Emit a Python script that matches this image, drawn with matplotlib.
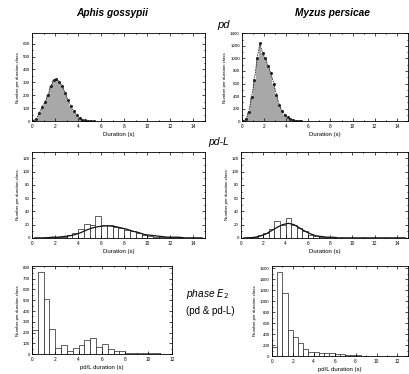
import matplotlib.pyplot as plt
import numpy as np
from matplotlib.ticker import MultipleLocator

plt.rcParams.update({
    "font.family": ["Liberation Sans", "DejaVu Sans"],
    "font.size": 3,
    "axes.linewidth": 0.6,
    "xtick.direction": "in",
    "ytick.direction": "in",
    "xtick.top": True,
    "ytick.right": True,
    "xtick.major.size": 2,
    "ytick.major.size": 2,
    "xtick.minor.size": 1,
    "ytick.minor.size": 1,
    "xtick.major.width": 0.5,
    "ytick.major.width": 0.5,
    "xtick.labelsize": 3.4,
    "ytick.labelsize": 3.2,
    "xtick.major.pad": 2,
    "ytick.major.pad": 1.5,
})

# --- data: counts per duration class -------------------------------------
# pd, 0.25 s classes starting at 0
PD_WIDTH = 0.25
pd_aphis = [5, 20, 60, 110, 150, 200, 270, 315, 325, 305, 270, 220, 160,
            115, 75, 45, 25, 12, 6, 3, 1, 0]
pd_myzus = [5, 40, 150, 380, 650, 1000, 1240, 1080, 1000, 880, 760, 600,
            420, 260, 160, 100, 60, 35, 20, 10, 5, 2]

# pd-L, 0.5 s classes starting at 0
PDL_WIDTH = 0.5
pdl_aphis = [0, 0, 1, 1, 2, 2, 4, 7, 14, 21, 20, 33, 19, 20, 16, 15, 12, 10,
             7, 4, 3, 2, 2, 1, 1, 1, 0, 0, 0, 0]
pdl_aphis_fit = [0, 0, 0, 1, 1, 2, 3, 5, 8, 12, 15, 17, 18, 18, 17, 15, 13,
                 10, 8, 5, 4, 3, 2, 1, 1, 1, 0, 0, 0, 0]
pdl_myzus = [0, 1, 2, 4, 8, 14, 25, 20, 30, 20, 15, 10, 4, 3, 2, 1, 0, 0,
             0, 0, 0, 0, 0, 0, 0, 0, 0, 0, 0, 0]
pdl_myzus_fit = [0, 0, 1, 3, 6, 11, 16, 20, 22, 20, 15, 10, 6, 3, 2, 1, 1,
                 0, 0, 0, 0, 0, 0, 0, 0, 0, 0, 0, 0, 0]

# phase E2 (pd & pd-L), 0.5 s classes starting at 0
E2_WIDTH = 0.5
e2_aphis = [225, 760, 510, 230, 55, 85, 25, 55, 85, 130, 150, 70, 90, 45, 30,
            25, 15, 15, 12, 12, 10, 8, 5, 6]
e2_myzus = [160, 1530, 1140, 470, 340, 230, 120, 80, 70, 60, 60, 50, 40, 30,
            20, 15, 10, 8, 5, 4, 3, 2, 2, 1, 1]

YLABEL = "Number per duration class"

fig = plt.figure(figsize=(4.10, 3.74), dpi=100)


def setup(ax, xmax, xstep, ymax, ystep, xlabel):
    ax.set_xlim(0, xmax)
    ax.set_ylim(0, ymax)
    ax.xaxis.set_major_locator(MultipleLocator(xstep))
    ax.xaxis.set_minor_locator(MultipleLocator(xstep / 2))
    ax.yaxis.set_major_locator(MultipleLocator(ystep))
    ax.yaxis.set_minor_locator(MultipleLocator(ystep / 2))
    ax.tick_params(which="both", top=True, right=True)
    ax.set_xlabel(xlabel, fontsize=4.3, labelpad=2.5)
    ax.set_ylabel(YLABEL, fontsize=3.2, labelpad=2)


def pd_panel(ax, counts):
    x = np.arange(len(counts)) * PD_WIDTH
    ax.bar(x, counts, width=PD_WIDTH, align="edge", color="#a8a8a8",
           edgecolor="none")
    ax.plot(x + PD_WIDTH / 2, counts, color="#222222", linewidth=0.6,
            linestyle=(0, (2, 1)), marker="o", markersize=1.2)


def pdl_panel(ax, counts, fit):
    x = np.arange(len(counts)) * PDL_WIDTH
    ax.bar(x, counts, width=PDL_WIDTH, align="edge", color="white",
           edgecolor="#222222", linewidth=0.5)
    ax.plot(x + PDL_WIDTH / 2, fit, color="#111111", linewidth=0.9)


def e2_panel(ax, counts):
    x = np.arange(len(counts)) * E2_WIDTH
    ax.bar(x, counts, width=E2_WIDTH, align="edge", color="white",
           edgecolor="#222222", linewidth=0.5)


# top row: pd
ax1 = fig.add_axes([0.078, 0.676, 0.422, 0.235])
pd_panel(ax1, pd_aphis)
setup(ax1, 15, 2, 680, 100, "Duration (s)")

ax2 = fig.add_axes([0.590, 0.676, 0.405, 0.235])
pd_panel(ax2, pd_myzus)
setup(ax2, 15, 2, 1400, 200, "Duration (s)")

# middle row: pd-L
ax3 = fig.add_axes([0.078, 0.364, 0.422, 0.230])
pdl_panel(ax3, pdl_aphis, pdl_aphis_fit)
setup(ax3, 15, 2, 130, 20, "Duration (s)")

ax4 = fig.add_axes([0.588, 0.364, 0.407, 0.230])
pdl_panel(ax4, pdl_myzus, pdl_myzus_fit)
setup(ax4, 15, 2, 130, 20, "Duration (s)")

# bottom row: phase E2
ax5 = fig.add_axes([0.078, 0.053, 0.341, 0.235])
e2_panel(ax5, e2_aphis)
setup(ax5, 12, 2, 815, 100, "pd/L duration (s)")

ax6 = fig.add_axes([0.663, 0.048, 0.332, 0.241])
e2_panel(ax6, e2_myzus)
setup(ax6, 13, 2, 1640, 200, "pd/L duration (s)")

# titles and row labels
fig.text(0.274, 0.966, "Aphis gossypii", ha="center", va="center",
         fontsize=7.3, fontweight="bold", style="italic")
fig.text(0.810, 0.966, "Myzus persicae", ha="center", va="center",
         fontsize=7.3, fontweight="bold", style="italic")
fig.text(0.546, 0.933, "pd", ha="center", va="center", fontsize=8,
         style="italic")
fig.text(0.534, 0.620, "pd-L", ha="center", va="center", fontsize=7.5,
         style="italic")
fig.text(0.505, 0.215, r"phase $E_2$", ha="center", va="center",
         fontsize=7.3, style="italic")
fig.text(0.512, 0.168, "(pd & pd-L)", ha="center", va="center",
         fontsize=7)

fig.savefig("out.png", dpi=100)
